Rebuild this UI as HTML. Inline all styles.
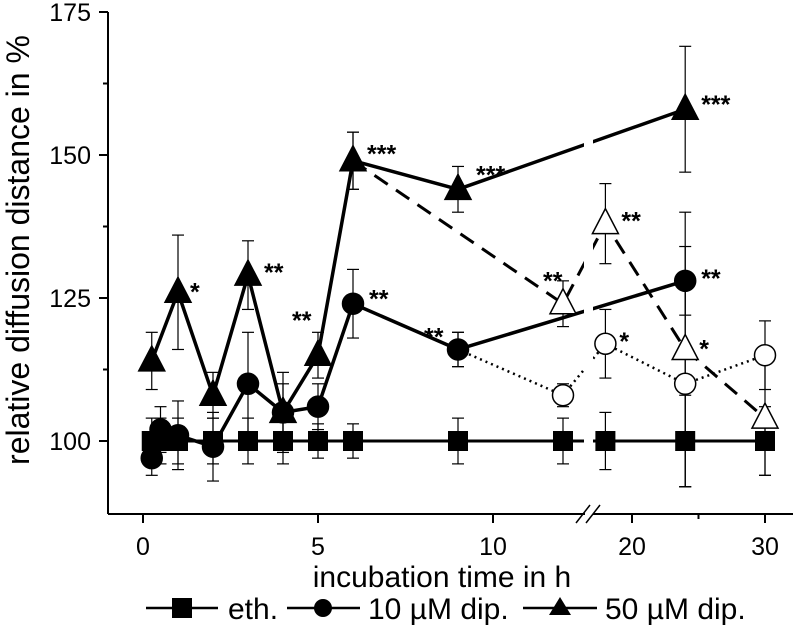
<!DOCTYPE html>
<html><head><meta charset="utf-8"><style>
body{margin:0;background:#fff;}
svg text{font-family:"Liberation Sans",sans-serif;fill:#000;}
</style></head><body>
<svg id="c" width="793" height="626" viewBox="0 0 793 626">
</svg>
<script>
const ethT=[0.25,0.5,1,2,3,4,5,6,9,12,18,24,30];
const ethV=[100,100,100,100,100,100,100,100,100,100,100,100,100];
const ethE=[4,4,4,4,4,4,3,3,4,4,5,8,6];
const c10T=[0.25,0.5,1,2,3,4,5,6,9,24];
const c10V=[97,102,101,99,110,105,106,124,116,128];
const c10E=[3,4,6,6,9,7,4,6,3,6];
const c10oT=[9,12,18,24,30];
const c10oV=[116,108,117,110,115];
const c10oE=[3,2,6,18,6];
const t50T=[0.25,1,2,3,4,5,6,9,24];
const t50V=[114,126,108,129,105,115,149,144,158];
const t50E=[5,10,4,6,5,4,5,4,11];
const t50oT=[6,12,18,24,30];
const t50oV=[149,124,138,116,104];
const t50oE=[5,4,7,24,10];
const starT=[1,3,5,6,6,9,9,12,18,18,24,24,24];
const starV=[126,129,115,124,149,116,144,124,138,117,158,116,128];
const starL=['*','**','**','**','***','**','***','**','**','*','***','*','**'];
const starDX=[12,16,-26,16,14,-34,18,-20,16,14,16,14,16];
const starDY=[-8,-10,-42,-12,-14,-20,-22,-30,-10,-10,-12,-8,-10];
const yTicks=[100,125,150,175];
const xTicksL=[0,5,10];
const xTicksR=[20,30];

const svg=document.getElementById('c');
const NS='http://www.w3.org/2000/svg';
function X(t){return t<=15?143+35*t:632+(t-20)*13.3;}
function Y(v){return 441-(v-100)*5.72;}
function el(tag,attrs,parent){const e=document.createElementNS(NS,tag);for(const k in attrs)e.setAttribute(k,attrs[k]);(parent||svg).appendChild(e);return e;}
function line(x1,y1,x2,y2,w,dash){return el('line',{x1,y1,x2,y2,stroke:'#000','stroke-width':w,'stroke-dasharray':dash||'none'});}
function text(x,y,s,size,anchor){const t=el('text',{x,y,style:'font-size:'+size+'px','text-anchor':anchor||'middle'});t.textContent=s;return t;}

let a=line(108,12,108,514,2);
a=line(108,514,585,514,2);
a=line(593,514,793,514,2);
line(576,523,590,505,1.5);line(586,523,600,505,1.5);
yTicks.forEach(v=>{line(99,Y(v),108,Y(v),2);const t=text(91,Y(v)+9,String(v),25,'end');});
[112.5,137.5,162.5].forEach(v=>line(103,Y(v),108,Y(v),2));
xTicksL.concat(xTicksR).forEach(v=>{line(X(v),514,X(v),523,2);const t=text(X(v),555,String(v),25);});
line(X(25),514,X(25),519,2);
let yl=text(0,0,'relative diffusion distance in %',32);yl.setAttribute('transform','translate(29,250) rotate(-90)');

let xl=text(442,587,'incubation time in h',30);


function errs(T,V,E){T.forEach((t,i)=>{const x=X(t);line(x,Y(V[i]-E[i]),x,Y(V[i]+E[i]),1.2);line(x-6,Y(V[i]-E[i]),x+6,Y(V[i]-E[i]),1.2);line(x-6,Y(V[i]+E[i]),x+6,Y(V[i]+E[i]),1.2);});}
function path(T,V,w,dash){return el('polyline',{points:T.map((t,i)=>X(t)+','+Y(V[i])).join(' '),fill:'none',stroke:'#000','stroke-width':w,'stroke-dasharray':dash||'none','stroke-linejoin':'round'});}
function marker(kind,x,y,filled,name){let m;const f=filled?'#000':'#fff';
 if(kind==='sq')m=el('rect',{x:x-10,y:y-10,width:20,height:20,fill:f});
 else if(kind==='ci')m=el('circle',{cx:x,cy:y,r:10.5,fill:f,stroke:'#000','stroke-width':1.5});
 else m=el('polygon',{points:`${x},${y-15} ${x-13},${y+10} ${x+13},${y+10}`,fill:f,stroke:'#000','stroke-width':1.5});
 }

errs(ethT,ethV,ethE);errs(c10T,c10V,c10E);errs(c10oT,c10oV,c10oE);errs(t50T,t50V,t50E);errs(t50oT,t50oV,t50oE);
path(c10oT,c10oV,2.5,'2 4');
path(t50oT,t50oV,3,'16 10');
path(ethT,ethV,3);path(c10T,c10V,3.5);path(t50T,t50V,3.5);
el('rect',{x:584,y:100,width:9,height:400,fill:'#fff'});
c10oT.forEach((t,i)=>{if(i>0)marker('ci',X(t),Y(c10oV[i]),false,'marker-10um-open');});
t50oT.forEach((t,i)=>{if(i>0)marker('tr',X(t),Y(t50oV[i]),false,'marker-50um-open');});
ethT.forEach((t,i)=>marker('sq',X(t),Y(ethV[i]),true,'marker-eth'));
c10T.forEach((t,i)=>marker('ci',X(t),Y(c10V[i]),true,'marker-10um'));
t50T.forEach((t,i)=>marker('tr',X(t),Y(t50V[i]),true,'marker-50um'));
starT.forEach((t,i)=>{const s=text(X(t)+starDX[i],Y(starV[i])+starDY[i]+16,starL[i],25,'start');s.setAttribute('font-weight','bold');});

const lg=el('g',{});
line(146,608,218,608,2.5);el('rect',{x:172,y:598,width:20,height:20,fill:'#000'},lg);
text(228,619,'eth.',30,'start');
line(287,608,360,608,2.5);el('circle',{cx:323,cy:608,r:9,fill:'#000'},lg);
text(368,619,'10 µM dip.',30,'start');
line(523,608,597,608,2.5);el('polygon',{points:'560,597 549,615 571,615',fill:'#000'},lg);
text(605,619,'50 µM dip.',30,'start');
</script>
</body></html>
